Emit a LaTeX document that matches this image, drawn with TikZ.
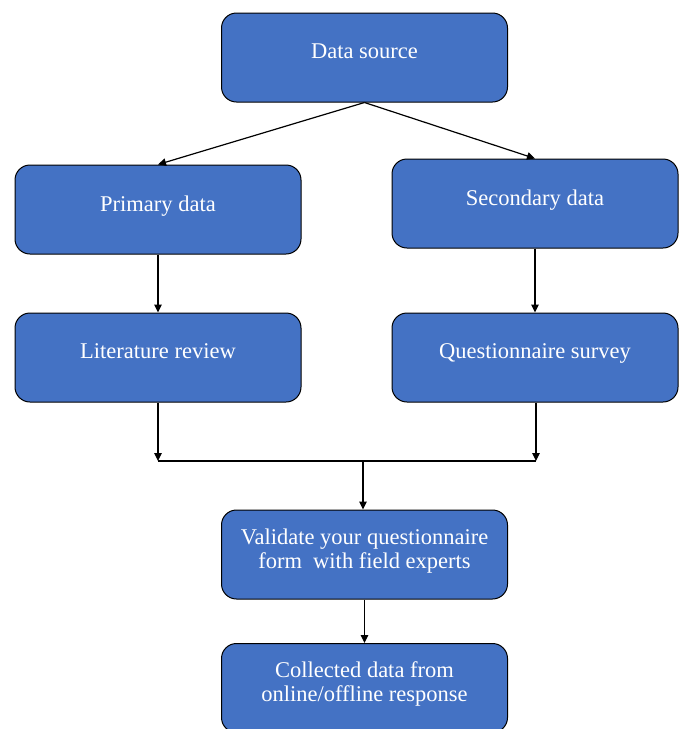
\documentclass[tikz,border=0pt]{standalone}
\usepackage{fontspec}
\setmainfont{Liberation Serif}
\usepackage{xcolor}
\usetikzlibrary{arrows.meta}
\definecolor{boxblue}{HTML}{4472C4}
\newcommand{\stagebox}[3]{\node[box] (#1) at (#2) {#3}}

\begin{document}
\begin{tikzpicture}[x=1pt,y=-1pt,
    box/.style={rectangle,rounded corners=15pt,draw=black,line width=1pt,
      fill=boxblue,text=white,minimum width=286pt,minimum height=89pt,
      align=center,text depth=12pt,font=\fontsize{22.5}{24}\selectfont},
    flow/.style={line width=1.2pt,-{Triangle[length=8pt,width=7.5pt]}}]
    \useasboundingbox (0,0) rectangle (684,729);

    \stagebox{source}{364.5,57.5}{Data source};
    \stagebox{primary}{158,209.5}{Primary data};
    \stagebox{secondary}{535,203.5}{Secondary data};
    \stagebox{literature}{158,357.5}{Literature review};
    \stagebox{survey}{535,357.5}{Questionnaire survey};
    \stagebox{validate}{364.5,554.5}{Validate your questionnaire\\form\ \ with field experts};
    \stagebox{collect}{364.5,688}{Collected data from\\online/offline response};

    \coordinate (jl) at (158,461);
    \coordinate (jr) at (536,461);
    \coordinate (jm) at (363,461);

    \draw[flow] (source.south) -- (primary.north);
    \draw[flow] (source.south) -- (secondary.north);
    \draw[flow] (primary) -- (literature);
    \draw[flow] (secondary) -- (survey);
    \draw[flow] (literature.south) -- (jl);
    \draw[flow] (survey.south -| jr) -- (jr);
    \draw[line width=1.2pt] (jl) -- (jr);
    \draw[flow] (jm) -- (validate.north -| jm);
    \draw[flow] (validate) -- (collect);
  \end{tikzpicture}
\end{document}
